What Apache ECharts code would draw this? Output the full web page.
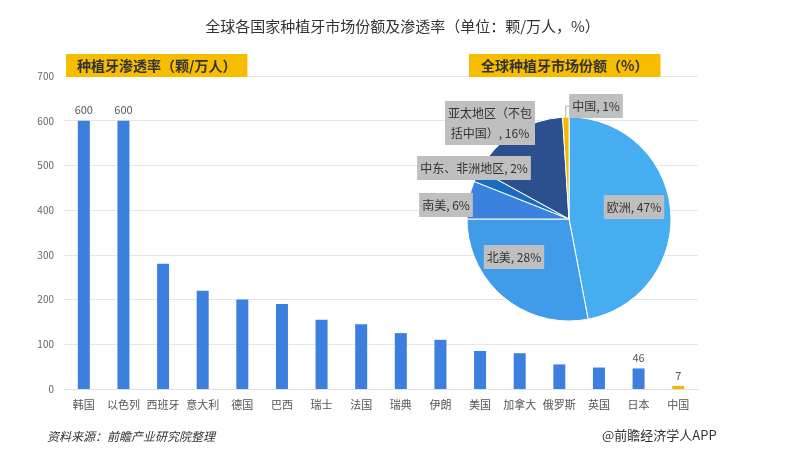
<!DOCTYPE html>
<html><head><meta charset="utf-8">
<script src="https://cdn.jsdelivr.net/npm/echarts@6/dist/echarts.min.js"></script>
<style>html,body{margin:0;padding:0;background:#fff}#c{width:805px;height:456px}</style>
</head><body><div id="c"></div>
<script>
const countries = ['韩国','以色列','西班牙','意大利','德国','巴西','瑞士','法国','瑞典','伊朗','美国','加拿大','俄罗斯','英国','日本','中国'];
const penetration = [600,600,280,220,200,190,155,145,125,110,85,80,55,48,46,7];
const labeledBars = ['韩国','以色列','日本','中国'];
const yTicks = [0,100,200,300,400,500,600,700];
const regions = ['欧洲','北美','南美','中东、非洲地区','亚太地区（不包括中国）','中国'];
const shares = [47,28,6,2,16,1];

const pieColors = ['#46aef0','#409be8','#3b82de','#1a6cc0','#2c4f8e','#f5b800'];
const labelPos = [[634,207],[514,257],[446,205],[474,168],[490,123],[596,106]];
const FONT = '"Noto Sans CJK SC","Noto Sans",sans-serif';

const chart = echarts.init(document.getElementById('c'));
chart.setOption({
  animation:false,
  textStyle:{fontFamily:FONT},
  title:[
    {text:'全球各国家种植牙市场份额及渗透率（单位：颗/万人，%）',left:'center',top:14,textStyle:{fontSize:15,fontWeight:'normal',color:'#333',fontFamily:FONT}},
    {text:'种植牙渗透率（颗/万人）',left:66,top:54,backgroundColor:'#f7bd00',padding:[4,11,4,11],textStyle:{fontSize:14,fontWeight:'bold',color:'#333',fontFamily:FONT,lineHeight:15}},
    {text:'全球种植牙市场份额（%）',left:469,top:54,backgroundColor:'#f7bd00',padding:[4,12,4,12],textStyle:{fontSize:14,fontWeight:'bold',color:'#333',fontFamily:FONT,lineHeight:15}},
    {text:'资料来源：前瞻产业研究院整理',left:42,top:425,textStyle:{fontSize:12,fontWeight:'normal',fontStyle:'italic',color:'#333',fontFamily:FONT}},
    {text:'@前瞻经济学人APP',left:597,top:424,textStyle:{fontSize:13,fontWeight:'normal',color:'#333',fontFamily:FONT}}
  ],
  grid:{left:64,right:107,top:76,bottom:67},
  xAxis:{type:'category',data:countries,axisLine:{show:true,lineStyle:{color:'#e0e0e0'}},axisTick:{show:false},
    axisLabel:{color:'#555',fontSize:11,margin:10,interval:0}},
  yAxis:{type:'value',min:yTicks[0],max:yTicks[yTicks.length-1],interval:100,axisLine:{show:false},axisTick:{show:false},
    axisLabel:{color:'#666',fontSize:10,margin:10},splitLine:{lineStyle:{color:'#e6e6e6'}}},
  series:[
    {type:'bar',barWidth:12,z:1,
     data:penetration.map((v,i)=>({value:v,itemStyle:{color:countries[i]==='中国'?'#f5b800':'#3c7fdf'},
       label:{show:labeledBars.includes(countries[i]),position:'top',color:'#555',fontSize:11,distance:5}}))},
    {type:'pie',center:[569,219],radius:[0,102],startAngle:90,clockwise:true,z:5,
     itemStyle:{borderColor:'#fff',borderWidth:1},
     data:regions.map((r,i)=>({name:r,value:shares[i],itemStyle:{color:pieColors[i]},
       labelLine:{show:i===5,length:4,length2:4,lineStyle:{color:'#aaa'}}})),
     label:{show:true,position:'outside',backgroundColor:'#bfbfbf',color:'#333',fontSize:12,padding:[2,3],lineHeight:20,
       formatter:p=>p.name==='亚太地区（不包括中国）'?'亚太地区（不包\n括中国）, 16%':p.name+', '+p.value+'%'},
     labelLayout:p=>{const q=labelPos[p.dataIndex];return {x:q[0],y:q[1],align:'center',verticalAlign:'middle'};}
    }
  ]
});
</script></body></html>
